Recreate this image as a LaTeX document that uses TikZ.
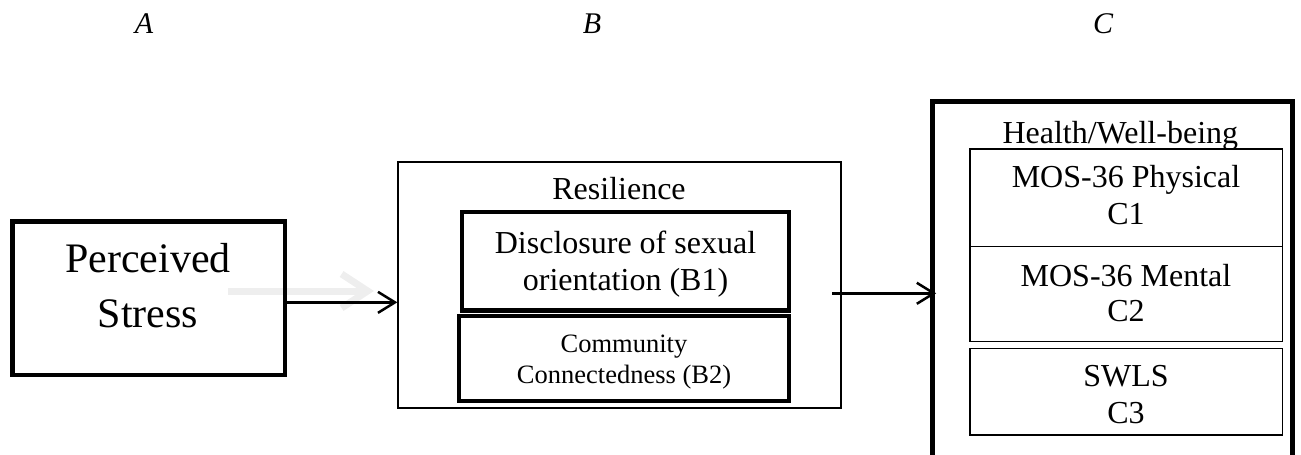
\documentclass[tikz,border=0pt]{standalone}
\usepackage{fontspec}
\setmainfont{Liberation Serif}
\usetikzlibrary{arrows.meta}
\begin{document}
\begin{tikzpicture}[x=1pt,y=-1pt,
  box/.style={draw, inner sep=0pt, rectangle},
  heavy/.style={box, line width=4.6pt},
  medium/.style={box, line width=1.5pt},
  light/.style={box, line width=1.1pt},
  txt/.style={anchor=base, inner sep=0pt, font=\fontsize{32}{38}\selectfont},
  small/.style={anchor=base, inner sep=0pt, font=\fontsize{26.5}{32}\selectfont},
  big/.style={anchor=base, inner sep=0pt, font=\fontsize{42}{50}\selectfont},
  lab/.style={anchor=base, inner sep=0pt, font=\fontsize{30}{36}\selectfont\itshape},
  conn/.style={line width=2.5pt, -{Straight Barb[length=17pt,width=21pt]}},
  ghost/.style={line width=7pt, draw={rgb,255:red,238;green,238;blue,238}, -{Straight Barb[length=26pt,width=34pt]}},
]
\useasboundingbox (0,0) rectangle (1301,455);

% column labels
\node[lab] (lA) at (144,33) {A};
\node[lab] (lB) at (592,33) {B};
\node[lab] (lC) at (1103,33) {C};

% faint arrow behind
\coordinate (g1) at (228,291);
\coordinate (g2) at (374,291);
\draw[ghost] (g1) -- (g2);

% A box
\node[heavy, minimum width=272.5pt, minimum height=153.3pt] (A) at (148.75,298.35) {};
\node[big] (A1) at (148,272) {Perceived};
\node[big] (A2) at (148,327) {Stress};

% B group
\node[box, line width=1.3pt, minimum width=443pt, minimum height=246pt] (R) at (619.5,285) {};
\node[txt] (Rt) at (619,199) {Resilience};
\node[heavy, line width=4.4pt, minimum width=327.3pt, minimum height=98.8pt] (B1) at (625.35,261.1) {};
\node[txt] (B1a) at (625.5,253.3) {Disclosure of sexual};
\node[txt] (B1b) at (625.5,290) {orientation (B1)};
\node[heavy, line width=4.4pt, minimum width=330pt, minimum height=85pt] (B2) at (624,358.5) {};
\node[small] (B2a) at (624,352.7) {Community};
\node[small] (B2b) at (624,383.3) {Connectedness (B2)};

% C group
\node[heavy, minimum width=360pt, minimum height=378.3pt] (C) at (1112.5,290.85) {};
\node[txt] (Ct) at (1120.3,143.3) {Health/Well-being};
\node[light, minimum width=312.7pt, minimum height=97.7pt] (C1) at (1126.35,197.85) {};
\node[txt] (C1a) at (1126,187.3) {MOS-36 Physical};
\node[txt] (C1b) at (1126,224.3) {C1};
\node[light, minimum width=312.7pt, minimum height=95pt] (C2) at (1126.35,294.2) {};
\node[txt] (C2a) at (1126,286.7) {MOS-36 Mental};
\node[txt] (C2b) at (1126,321.7) {C2};
\node[medium, minimum width=312.7pt, minimum height=86.7pt] (C3) at (1126.35,391.65) {};
\node[txt] (C3a) at (1126,386.7) {SWLS};
\node[txt] (C3b) at (1126,423.3) {C3};

% connectors
\draw[conn] ([yshift=-4pt]A.east) -- ([yshift=-4pt]A.east -| R.west);
\coordinate (r2) at (832,293.3);
\draw[conn, shorten >=-6pt] (r2) -- (r2 -| C.west);
\end{tikzpicture}
\end{document}
